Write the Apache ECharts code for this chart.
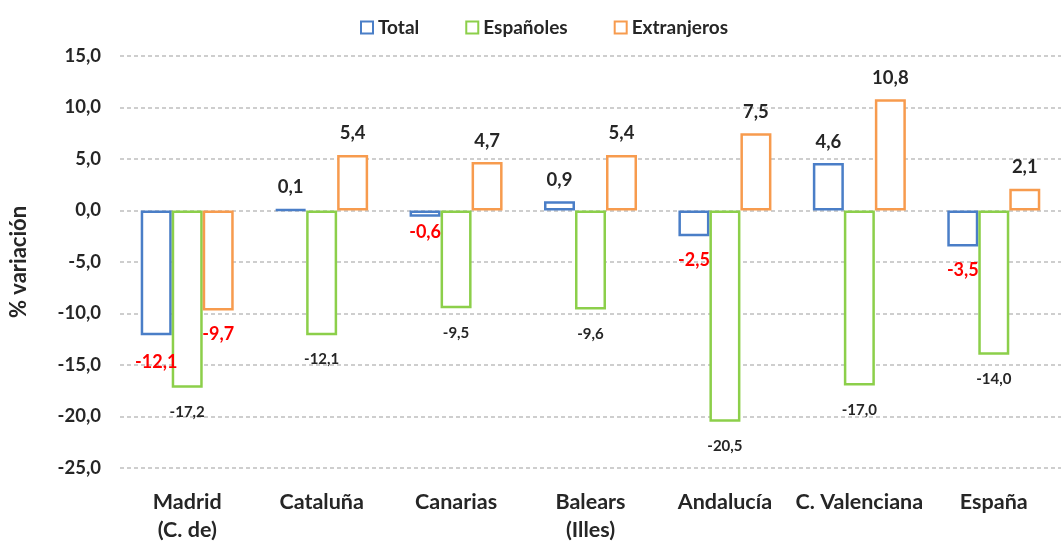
<!DOCTYPE html>
<html>
<head>
<meta charset="utf-8">
<script src="https://cdn.jsdelivr.net/npm/echarts@6/dist/echarts.min.js"></script>
<style>html,body{margin:0;padding:0;background:#fff}#c{width:1061px;height:544px}</style>
</head>
<body>
<div id="c"></div>
<script>
var categories = ['Madrid\n(C. de)', 'Cataluña', 'Canarias', 'Balears\n(Illes)', 'Andalucía', 'C. Valenciana', 'España'];
var total = [-12.1, 0.1, -0.6, 0.9, -2.5, 4.6, -3.5];
var espanoles = [-17.2, -12.1, -9.5, -9.6, -20.5, -17.0, -14.0];
var extranjeros = [-9.7, 5.4, 4.7, 5.4, 7.5, 10.8, 2.1];
var yTicks = [-25, -20, -15, -10, -5, 0, 5, 10, 15];

var FONT = 'Lato';
function fmt(v) { return v.toFixed(1).replace('.', ','); }

function buildData(vals, kind) {
  return vals.map(function (v, i) {
    var lab;
    if (v >= 0) {
      lab = { position: 'top', distance: 12, color: '#262626', fontSize: 18.5 };
    } else if (kind === 'esp') {
      lab = { position: 'bottom', distance: 17, color: '#262626', fontSize: 15 };
    } else {
      var d = 15;
      if (kind === 'total' && i === 0) d = 18;
      if (kind === 'total' && i === 2) d = 7;
      lab = { position: 'bottom', distance: d, color: '#FF0000', fontSize: 18 };
    }
    return { value: v, label: lab };
  });
}

function series(name, vals, color, kind) {
  return {
    name: name,
    type: 'bar',
    barWidth: 31,
    barGap: '0%',
    data: buildData(vals, kind),
    itemStyle: { color: '#ffffff', borderColor: color, borderWidth: 2.5 },
    label: {
      show: true,
      fontFamily: FONT,
      fontWeight: 'bold',
      formatter: function (p) { return fmt(p.value); }
    }
  };
}

var chart = echarts.init(document.getElementById('c'), null, { renderer: 'canvas' });
chart.setOption({
  animation: false,
  backgroundColor: '#ffffff',
  textStyle: { fontFamily: FONT },
  legend: {
    top: 13,
    left: 355,
    icon: 'rect',
    itemWidth: 12,
    itemHeight: 12,
    itemGap: 46,
    textStyle: { fontFamily: FONT, fontWeight: 'bold', fontSize: 19, color: '#262626' },
    data: ['Total', 'Españoles', 'Extranjeros']
  },
  grid: { left: 116, top: 56, width: 959, height: 415 },
  xAxis: {
    type: 'category',
    data: categories,
    axisLine: { show: false, onZero: false },
    axisTick: { show: false },
    axisLabel: {
      interval: 0,
      margin: 20,
      fontFamily: FONT,
      fontWeight: 'bold',
      fontSize: 21.5,
      lineHeight: 28,
      color: '#262626'
    }
  },
  yAxis: {
    type: 'value',
    min: yTicks[0],
    max: yTicks[yTicks.length - 1],
    interval: 5,
    name: '% variación',
    nameLocation: 'middle',
    nameRotate: 90,
    nameGap: 90,
    nameTextStyle: { fontFamily: FONT, fontWeight: 'bold', fontSize: 22, color: '#262626' },
    axisLine: { show: false },
    axisTick: { show: false },
    axisLabel: {
      margin: 19,
      fontFamily: FONT,
      fontWeight: 'bold',
      fontSize: 18.5,
      color: '#262626',
      formatter: function (v) { return fmt(v); }
    },
    splitLine: { lineStyle: { color: '#BFBFBF', width: 1.5, type: [4, 3] } }
  },
  series: [
    series('Total', total, '#4A7EC7', 'total'),
    series('Españoles', espanoles, '#8CCF4A', 'esp'),
    series('Extranjeros', extranjeros, '#F79B4E', 'ext')
  ]
});
</script>
</body>
</html>
